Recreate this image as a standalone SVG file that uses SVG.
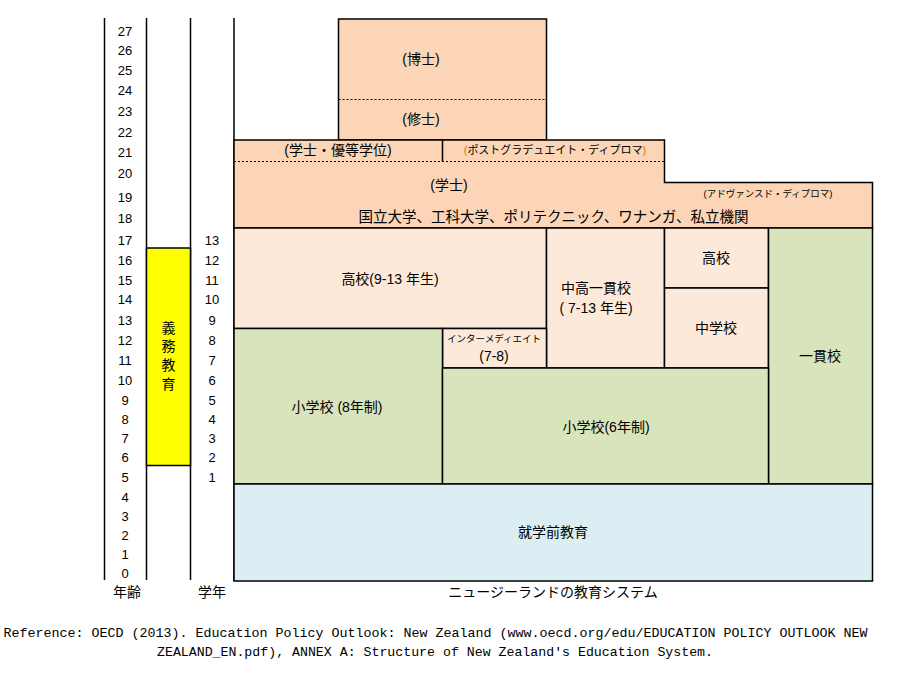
<svg xmlns="http://www.w3.org/2000/svg" width="910" height="698" viewBox="0 0 910 698">
<style>
.bx{stroke:#000;stroke-width:1.5}
.pk{fill:#FBD5B5}
.lp{fill:#FDE9D9}
.gr{fill:#D7E4BC}
.bl{fill:#DAEEF3}
.dot{stroke:#000;stroke-width:1.2;stroke-dasharray:2 2;fill:none}
.ax{stroke:#000;stroke-width:1.5}
text{font-family:"Liberation Sans","Noto Sans CJK JP",sans-serif;fill:#000;text-anchor:middle}
.t{font-size:14px}
.n{font-size:13px}
.s{font-size:11px}
.xs{font-size:9.5px}
.ref{font-family:"Liberation Mono","Noto Sans CJK JP",monospace;font-size:13.33px}
</style>
<rect width="910" height="698" fill="#fff"/>

<g id="axes">
<line class="ax" x1="104.5" y1="18" x2="104.5" y2="580"/>
<line class="ax" x1="146.5" y1="18" x2="146.5" y2="580"/>
<line class="ax" x1="190.5" y1="18" x2="190.5" y2="580"/>
<line class="ax" x1="234" y1="18" x2="234" y2="581"/>
</g>

<g id="compulsory">
<rect class="bx" x="146.5" y="248" width="44" height="217.5" fill="#FFFF00"/>
<text class="t" x="168.5" y="333">義</text>
<text class="t" x="168.5" y="351">務</text>
<text class="t" x="168.5" y="370">教</text>
<text class="t" x="168.5" y="389">育</text>
</g>

<g id="ages">
<text class="n" x="125" y="36">27</text>
<text class="n" x="125" y="55">26</text>
<text class="n" x="125" y="75">25</text>
<text class="n" x="125" y="95">24</text>
<text class="n" x="125" y="116">23</text>
<text class="n" x="125" y="137">22</text>
<text class="n" x="125" y="157">21</text>
<text class="n" x="125" y="178">20</text>
<text class="n" x="125" y="202">19</text>
<text class="n" x="125" y="223">18</text>
<text class="n" x="125" y="245">17</text>
<text class="n" x="125" y="265">16</text>
<text class="n" x="125" y="285">15</text>
<text class="n" x="125" y="304">14</text>
<text class="n" x="125" y="325">13</text>
<text class="n" x="125" y="345">12</text>
<text class="n" x="125" y="365">11</text>
<text class="n" x="125" y="385">10</text>
<text class="n" x="125" y="405">9</text>
<text class="n" x="125" y="424">8</text>
<text class="n" x="125" y="443">7</text>
<text class="n" x="125" y="462">6</text>
<text class="n" x="125" y="482">5</text>
<text class="n" x="125" y="502">4</text>
<text class="n" x="125" y="521">3</text>
<text class="n" x="125" y="540">2</text>
<text class="n" x="125" y="559">1</text>
<text class="n" x="125" y="578">0</text>
</g>

<g id="grades">
<text class="n" x="212" y="245">13</text>
<text class="n" x="212" y="265">12</text>
<text class="n" x="212" y="285">11</text>
<text class="n" x="212" y="304">10</text>
<text class="n" x="212" y="325">9</text>
<text class="n" x="212" y="345">8</text>
<text class="n" x="212" y="365">7</text>
<text class="n" x="212" y="385">6</text>
<text class="n" x="212" y="405">5</text>
<text class="n" x="212" y="424">4</text>
<text class="n" x="212" y="443">3</text>
<text class="n" x="212" y="462">2</text>
<text class="n" x="212" y="482">1</text>
</g>

<g id="postgrad">
<rect class="bx pk" x="338.5" y="19" width="208" height="121"/>
<line class="dot" x1="338.5" y1="99.5" x2="546.5" y2="99.5"/>
<text class="t" x="421" y="64">(博士)</text>
<text class="t" x="421" y="124">(修士)</text>
</g>

<g id="tertiary">
<polygon class="bx pk" points="234,140 664.5,140 664.5,182.5 872.5,182.5 872.5,228 234,228"/>
<line class="dot" x1="234" y1="161.5" x2="664.5" y2="161.5"/>
<line class="bx" x1="442.5" y1="140" x2="442.5" y2="161.5"/>
<text class="t" x="338" y="155">(学士・優等学位)</text>
<text class="s" x="555" y="154"><tspan fill="#E46C0A">(</tspan>ポストグラデュエイト・ディプロマ<tspan fill="#E46C0A">)</tspan></text>
<text class="t" x="449" y="190">(学士)</text>
<text class="xs" x="768" y="197">(アドヴァンスド・ディプロマ)</text>
<text x="553.5" y="222" style="font-size:15px" textLength="390" lengthAdjust="spacingAndGlyphs">国立大学、工科大学、ポリテクニック、ワナンガ、私立機関</text>
</g>

<g id="highschool">
<rect class="bx lp" x="234" y="228" width="312.5" height="100.5"/>
<text class="t" x="390" y="284">高校(9-13 年生)</text>
</g>

<g id="secondary-combined">
<rect class="bx lp" x="546.5" y="228" width="118" height="140"/>
<text class="t" x="596" y="293">中高一貫校</text>
<text class="t" x="596" y="313">( 7-13 年生)</text>
</g>

<g id="highschool2">
<rect class="bx lp" x="664.5" y="228" width="104" height="60"/>
<text class="t" x="716" y="263">高校</text>
</g>

<g id="middleschool">
<rect class="bx lp" x="664.5" y="288" width="104" height="80"/>
<text class="t" x="716" y="333">中学校</text>
</g>

<g id="composite">
<rect class="bx gr" x="768.5" y="228" width="104" height="256"/>
<text class="t" x="820" y="361">一貫校</text>
</g>

<g id="intermediate">
<rect class="bx lp" x="442.5" y="328.5" width="104" height="39.5"/>
<text class="xs" x="494" y="342">インターメディエイト</text>
<text class="t" x="494" y="361">(7-8)</text>
</g>

<g id="primary8">
<rect class="bx gr" x="234" y="328.5" width="208.5" height="155.5"/>
<text class="t" x="337" y="412">小学校 (8年制)</text>
</g>

<g id="primary6">
<rect class="bx gr" x="442.5" y="368" width="326" height="116"/>
<text class="t" x="606" y="432">小学校(6年制)</text>
</g>

<g id="preschool">
<rect class="bx bl" x="234" y="484" width="638.5" height="97"/>
<text class="t" x="553" y="537">就学前教育</text>
</g>

<g id="labels">
<text class="t" x="127" y="597">年齢</text>
<text class="t" x="212" y="597">学年</text>
<text class="t" x="553" y="597">ニュージーランドの教育システム</text>
<text class="ref" x="435.5" y="637" textLength="864" lengthAdjust="spacingAndGlyphs">Reference: OECD (2013). Education Policy Outlook: New Zealand (www.oecd.org/edu/EDUCATION POLICY OUTLOOK NEW</text>
<text class="ref" x="435" y="656" textLength="556" lengthAdjust="spacingAndGlyphs">ZEALAND_EN.pdf), ANNEX A: Structure of New Zealand's Education System.</text>
</g>
</svg>
